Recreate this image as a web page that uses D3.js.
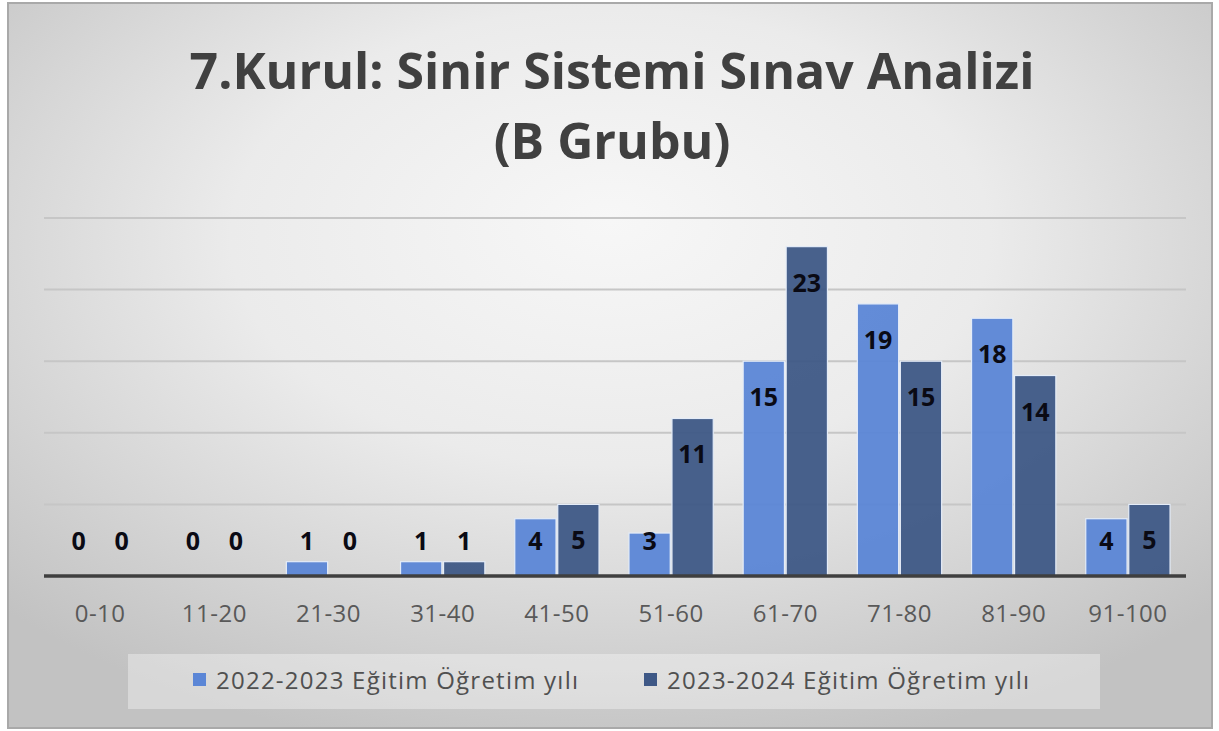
<!DOCTYPE html>
<html><head><meta charset="utf-8">
<script src="https://cdn.jsdelivr.net/npm/d3@7"></script>
<style>html,body{margin:0;padding:0;background:#fff;}svg{display:block;}</style>
</head><body>
<svg id="chart" width="1219" height="731"></svg>
<script>
const categories = ["0-10","11-20","21-30","31-40","41-50","51-60","61-70","71-80","81-90","91-100"];
const series2022 = [0,0,1,1,4,3,15,19,18,4];
const series2023 = [0,0,0,1,5,11,23,15,14,5];
const seriesNames = ["2022-2023 Eğitim Öğretim yılı","2023-2024 Eğitim Öğretim yılı"];
const seriesColors = ["#5b86d6","#3e5886"];
const yTicks = [0,5,10,15,20,25];
const titleLines = ["7.Kurul: Sinir Sistemi Sınav Analizi","(B Grubu)"];

const svg = d3.select("#chart");
const defs = svg.append("defs");
const grad = defs.append("radialGradient").attr("id","bg")
  .attr("cx","50%").attr("cy","35%").attr("r","70%").attr("fx","50%").attr("fy","30%");
grad.append("stop").attr("offset","0%").attr("stop-color","#f7f7f7");
grad.append("stop").attr("offset","45%").attr("stop-color","#ebebeb");
grad.append("stop").attr("offset","100%").attr("stop-color","#c2c2c2");

svg.append("rect").attr("x",8).attr("y",3).attr("width",1204).attr("height",725)
  .attr("fill","url(#bg)").attr("stroke","#a9a9a9").attr("stroke-width",2);

const font = "'Open Sans', 'Noto Sans', sans-serif";

// title
const title = svg.append("text").attr("text-anchor","middle")
  .attr("font-family",font).attr("font-weight","bold").attr("fill","#404040");
titleLines.forEach((t,i)=>{
  title.append("tspan").attr("x",612).attr("y",i===0?89:159).attr("font-size",50).text(t);
});

const x = d3.scaleBand().domain(categories).range([43,1185]).paddingInner(0.262).paddingOuter(0.131);
const x1 = d3.scaleBand().domain([0,1]).range([0,x.bandwidth()]).paddingInner(0.04);
const y = d3.scaleLinear().domain([0,25]).range([576,218]);

// gridlines
svg.append("g").selectAll("line").data(yTicks.filter(d=>d>0)).join("line")
  .attr("x1",44).attr("x2",1186).attr("y1",d=>y(d)).attr("y2",d=>y(d))
  .attr("stroke","#c6c6c6").attr("stroke-width",2);

const data = categories.map((c,i)=>({cat:c, vals:[series2022[i],series2023[i]]}));

const groups = svg.append("g").selectAll("g").data(data).join("g")
  .attr("transform",d=>`translate(${x(d.cat)},0)`);

groups.selectAll("rect").data(d=>d.vals.map((v,k)=>({v,k}))).join("rect")
  .attr("x",d=>x1(d.k)).attr("width",x1.bandwidth())
  .attr("y",d=>y(d.v)).attr("height",d=>y(0)-y(d.v))
  .attr("fill",d=>seriesColors[d.k]).attr("fill-opacity",0.95)
  .attr("stroke",d=>d.v>0?"#e4ecf8":"none").attr("stroke-width",1.2);

groups.selectAll("text").data(d=>d.vals.map((v,k)=>({v,k}))).join("text")
  .attr("x",d=>x1(d.k)+x1.bandwidth()/2)
  .attr("y",d=>Math.min(y(d.v)+36,541)+9)
  .attr("text-anchor","middle").attr("font-family",font).attr("font-weight","bold")
  .attr("font-size",25).attr("fill","#0a0a14").text(d=>d.v);

// baseline axis
svg.append("line").attr("x1",44).attr("x2",1186).attr("y1",y(0)).attr("y2",y(0))
  .attr("stroke","#3f3f3f").attr("stroke-width",3.5);

// category axis
const xAxis = svg.append("g").attr("transform",`translate(0,${y(0)})`)
  .call(d3.axisBottom(x).tickSize(0).tickPadding(29));
xAxis.select(".domain").remove();
xAxis.selectAll("text").attr("font-family",font).attr("font-size",24).attr("fill","#595959")
  .attr("letter-spacing","0.5px");

// legend
svg.append("rect").attr("x",128).attr("y",654).attr("width",972).attr("height",55)
  .attr("fill","#ffffff").attr("fill-opacity",0.35);
const legX = [193,644];
const leg = svg.append("g").selectAll("g").data(seriesNames).join("g")
  .attr("transform",(d,i)=>`translate(${legX[i]},680)`);
leg.append("rect").attr("x",0).attr("y",-7).attr("width",13).attr("height",13)
  .attr("fill",(d,i)=>seriesColors[i]);
leg.append("text").attr("x",23).attr("y",9).attr("font-family",font).attr("font-size",24)
  .attr("textLength",362).attr("lengthAdjust","spacing")
  .attr("fill","#505050").text(d=>d);
</script>
</body></html>
